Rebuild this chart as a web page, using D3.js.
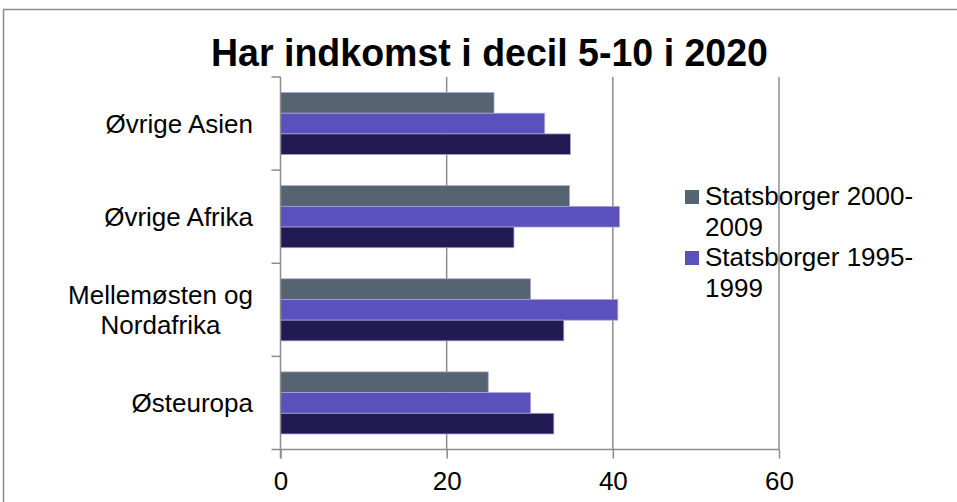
<!DOCTYPE html>
<html>
<head>
<meta charset="utf-8">
<script src="https://cdn.jsdelivr.net/npm/d3@7"></script>
<style>
  html, body { margin: 0; padding: 0; background: #fff; }
  svg { display: block; }
  text { font-family: "Liberation Sans", Arial, sans-serif; fill: #000; }
</style>
</head>
<body>
<svg id="chart" width="957" height="502"></svg>
<script>
// ---- data ----
const title = "Har indkomst i decil 5-10 i 2020";
const categories = ["Øvrige Asien", "Øvrige Afrika", "Mellemøsten og Nordafrika", "Østeuropa"];
const seriesNames = ["Statsborger 2000-2009", "Statsborger 1995-1999", "Serie 3"];
const series2000_2009 = [25.7, 34.8, 30.1, 25.0];
const series1995_1999 = [31.8, 40.8, 40.6, 30.1];
const series3 = [34.9, 28.1, 34.1, 32.9];
const seriesColors = ["#566471", "#5b51bd", "#221a52"];
const legendCount = 2;
const xTicks = [0, 20, 40, 60];
const xDomain = [0, 60];

const seriesValues = [series2000_2009, series1995_1999, series3];

const svg = d3.select("#chart");
const W = 957, H = 502;
const plot = { left: 280.5, right: 779, top: 77, bottom: 449.5 };
const axisColor = "#8c8c8c";
const FS = 26;

// outer frame (cropped at right/bottom)
svg.append("rect")
  .attr("x", 3.5).attr("y", 9.5)
  .attr("width", 1100).attr("height", 700)
  .attr("fill", "none").attr("stroke", axisColor).attr("stroke-width", 1.5);

const x = d3.scaleLinear().domain(xDomain).range([plot.left, plot.right]);
const y = d3.scaleBand().domain(categories).range([plot.top, plot.bottom]);
const gap = y.bandwidth() / 6;
const yInner = d3.scaleBand().domain(d3.range(seriesNames.length))
  .range([gap, y.bandwidth() - gap]);

// gridlines + bottom axis
const xAxis = d3.axisBottom(x).tickValues(xTicks).tickSize(9).tickSizeOuter(0).tickPadding(5);
const gx = svg.append("g").attr("transform", `translate(0,${plot.bottom})`).call(xAxis);
gx.select(".domain").remove();
gx.selectAll(".tick line").attr("stroke", axisColor).attr("stroke-width", 1.5);
gx.selectAll(".tick text")
  .style("font-family", '"Liberation Sans", Arial, sans-serif')
  .style("font-size", FS + "px").attr("fill", "#000").attr("y", 22).attr("dy", "0.71em");

svg.append("g").selectAll("line.grid")
  .data(xTicks.filter(t => t !== 0))
  .join("line")
  .attr("x1", d => x(d)).attr("x2", d => x(d))
  .attr("y1", plot.top).attr("y2", plot.bottom)
  .attr("stroke", axisColor).attr("stroke-width", 1.5);

// bars
const groups = svg.append("g").selectAll("g")
  .data(categories)
  .join("g")
  .attr("transform", c => `translate(0,${y(c)})`);

groups.selectAll("rect")
  .data((c, ci) => seriesValues.map((vals, si) => ({ si, v: vals[ci] })))
  .join("rect")
  .attr("x", x(0))
  .attr("y", d => yInner(d.si))
  .attr("width", d => x(d.v) - x(0))
  .attr("height", yInner.bandwidth())
  .attr("fill", d => seriesColors[d.si])
  .attr("stroke", "#a9a5d6").attr("stroke-width", 0.75);

// left axis line + band ticks
svg.append("line")
  .attr("x1", plot.left).attr("x2", plot.left)
  .attr("y1", plot.top).attr("y2", plot.bottom + 9)
  .attr("stroke", axisColor).attr("stroke-width", 1.5);
svg.append("line")
  .attr("x1", plot.left - 9).attr("x2", plot.right)
  .attr("y1", plot.bottom).attr("y2", plot.bottom)
  .attr("stroke", axisColor).attr("stroke-width", 1.5);
const boundaries = categories.map(c => y(c));
svg.append("g").selectAll("line")
  .data(boundaries)
  .join("line")
  .attr("x1", plot.left - 9).attr("x2", plot.left)
  .attr("y1", d => d).attr("y2", d => d)
  .attr("stroke", axisColor).attr("stroke-width", 1.5);

// helper: wrap text into lines
function measure(txt, size, weight) {
  const t = svg.append("text").style("font-size", size + "px").style("font-weight", weight || "normal").text(txt);
  const w = t.node().getComputedTextLength();
  t.remove();
  return w;
}
function wrap(txt, maxW, size) {
  const tokens = txt.split(/(?<=-)|(?<= )/);
  const lines = [];
  let cur = "";
  tokens.forEach(tok => {
    const trial = cur + tok;
    if (cur && measure(trial.trim(), size) > maxW) { lines.push(cur.trim()); cur = tok; }
    else cur = trial;
  });
  if (cur.trim()) lines.push(cur.trim());
  return lines;
}

// category labels
const labelRight = 253;
const lineH = 30;
categories.forEach(c => {
  const lines = wrap(c, 200, FS);
  const widths = lines.map(l => measure(l, FS));
  const blockW = d3.max(widths);
  const cx = labelRight - blockW / 2;
  const cy = y(c) + y.bandwidth() / 2;
  const firstBase = cy + 9.3 - (lines.length - 1) * lineH / 2;
  const t = svg.append("text").attr("text-anchor", "middle").style("font-size", FS + "px");
  lines.forEach((l, i) => t.append("tspan").attr("x", cx).attr("y", firstBase + i * lineH).text(l));
});

// title
svg.append("text")
  .attr("x", 489.5).attr("y", 66)
  .attr("text-anchor", "middle")
  .style("font-size", "38px").style("font-weight", "bold")
  .attr("textLength", 557).attr("lengthAdjust", "spacingAndGlyphs")
  .text(title);

// legend
const legendX = 685, legendTop = 190, entryGap = 61;
seriesNames.slice(0, legendCount).forEach((name, i) => {
  const top = legendTop + i * entryGap;
  svg.append("rect")
    .attr("x", legendX).attr("y", top)
    .attr("width", 14).attr("height", 14)
    .attr("fill", seriesColors[i]);
  const lines = wrap(name, 240, FS);
  const t = svg.append("text").style("font-size", FS + "px");
  lines.forEach((l, k) => t.append("tspan").attr("x", legendX + 20).attr("y", top + 15 + k * 31).text(l));
});
</script>
</body>
</html>
